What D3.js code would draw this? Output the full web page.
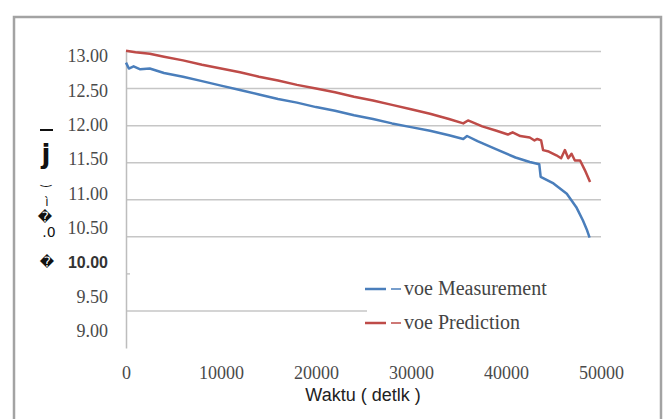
<!DOCTYPE html>
<html>
<head>
<meta charset="utf-8">
<script src="https://cdn.jsdelivr.net/npm/d3@7"></script>
<style>
  body { margin: 0; background: #fff; }
</style>
</head>
<body>
<svg width="670" height="419"></svg>
<script>
// values
var xTicks = [0, 10000, 20000, 30000, 40000, 50000];
var yTicks = [9.0, 9.5, 10.0, 10.5, 11.0, 11.5, 12.0, 12.5, 13.0];

var measTime = [0, 300, 800, 1500, 2500, 4000, 6000, 8000, 10000, 12000, 14000, 16000, 18000, 20000,
    22000, 24000, 26000, 28000, 30000, 32000, 34000, 35500, 35900, 37000, 39000, 41000, 42500,
    43500, 43650, 45000, 46400, 47400, 48100, 48500, 48800];
var measVolt = [12.85, 12.77, 12.80, 12.76, 12.77, 12.71, 12.66, 12.60, 12.54, 12.48, 12.42, 12.36, 12.31, 12.25,
    12.20, 12.14, 12.09, 12.03, 11.98, 11.93, 11.87, 11.82, 11.86, 11.79, 11.68, 11.57, 11.51,
    11.48, 11.31, 11.22, 11.08, 10.90, 10.72, 10.60, 10.49];

var predTime = [0, 1000, 2500, 4000, 6000, 8000, 10000, 12000, 14000, 16000, 18000, 20000, 22000, 24000,
    26000, 28000, 30000, 32000, 34000, 35500, 36000, 37500, 39000, 40200, 40700, 41500, 42500, 43000,
    43300, 43700, 43900, 44500, 45300, 45800, 46200, 46550, 46900, 47250, 47800, 48300, 48850];
var predVolt = [13.01, 12.99, 12.97, 12.93, 12.88, 12.82, 12.77, 12.72, 12.66, 12.61, 12.55, 12.50, 12.45, 12.39,
    12.34, 12.28, 12.22, 12.16, 12.09, 12.03, 12.07, 11.99, 11.93, 11.88, 11.91, 11.86, 11.84, 11.80,
    11.82, 11.80, 11.67, 11.65, 11.60, 11.56, 11.67, 11.56, 11.62, 11.53, 11.53, 11.40, 11.24];

var seriesNames = ["voe Measurement", "voe Prediction"];
var seriesColors = ["#4a7ebb", "#be4b48"];

var serif = "'Liberation Serif', 'Times New Roman', serif";
var sans = "'Liberation Sans', Arial, sans-serif";

var svg = d3.select("svg");

// outer frame
svg.append("rect")
    .attr("x", 14).attr("y", 17)
    .attr("width", 647).attr("height", 420)
    .attr("fill", "none")
    .attr("stroke", "#a3a3a3")
    .attr("stroke-width", 2.5);

var x = d3.scaleLinear().domain([0, 50000]).range([126, 601]);
var y = d3.scaleLinear().domain([9, 13]).range([348, 51.5]);
// tick labels in the scan sit a little squeezed compared with the gridlines
var yLab = d3.scaleLinear().domain([9, 13]).range([331, 56]);

// gridlines (10.00 is hidden behind the legend box, 9.50 stops at it)
var grid = svg.append("g");
yTicks.filter(function (d) { return d > 9 && d !== 10; }).forEach(function (d) {
    grid.append("line")
        .attr("x1", x(0)).attr("x2", d === 9.5 ? 367 : x(50000))
        .attr("y1", y(d)).attr("y2", y(d))
        .attr("stroke", "#c6c6c6").attr("stroke-width", 1.5);
});
grid.append("line")
    .attr("x1", x(0)).attr("x2", x(0) + 4)
    .attr("y1", y(10)).attr("y2", y(10))
    .attr("stroke", "#c6c6c6").attr("stroke-width", 1.5);

// y axis
var yAxis = svg.append("g")
    .attr("transform", "translate(" + x(0) + ",0)")
    .call(d3.axisLeft(y).tickValues(yTicks).tickSize(0).tickPadding(18)
        .tickFormat(function (d) { return d.toFixed(2); }));
yAxis.select(".domain").attr("stroke", "#bdbdbd").attr("stroke-width", 1.5);
yAxis.selectAll(".tick text")
    .style("font-family", serif)
    .style("font-size", "18px")
    .style("fill", "#4a4a4a")
    .attr("y", function (d) { return yLab(d) - y(d); });
yAxis.selectAll(".tick").filter(function (d) { return d === 10; }).select("text")
    .style("font-family", sans)
    .style("font-weight", "bold")
    .style("font-size", "16px")
    .style("fill", "#333");

// x axis (labels only)
var xAxis = svg.append("g")
    .attr("transform", "translate(0," + y(9) + ")")
    .call(d3.axisBottom(x).tickValues(xTicks).tickSize(0).tickPadding(18)
        .tickFormat(d3.format("d")));
xAxis.select(".domain").remove();
xAxis.selectAll(".tick text")
    .style("font-family", serif)
    .style("font-size", "18px")
    .style("fill", "#4a4a4a");

svg.append("text")
    .attr("x", 363).attr("y", 401)
    .attr("text-anchor", "middle")
    .style("font-family", sans)
    .style("font-size", "18px")
    .style("fill", "#222")
    .text("Waktu ( detlk )");

// garbled y label from the scan
var yl = svg.append("g")
    .style("font-family", "'DejaVu Sans', sans-serif")
    .style("fill", "#111");
yl.append("line").attr("x1", 40).attr("x2", 53).attr("y1", 130).attr("y2", 130)
    .attr("stroke", "#111").attr("stroke-width", 2);
yl.append("text").attr("x", 46).attr("y", 163).attr("text-anchor", "middle")
    .style("font-size", "26px").style("font-weight", "bold").text("j");
yl.append("text").attr("x", 46).attr("y", 184).attr("text-anchor", "middle")
    .style("font-size", "13px").text("‿");
yl.append("text").attr("x", 47).attr("y", 206).attr("text-anchor", "middle")
    .style("font-size", "12px").text("ì");
yl.append("text").attr("x", 45).attr("y", 222).attr("text-anchor", "middle")
    .style("font-size", "14px").text("�");
yl.append("text").attr("x", 49).attr("y", 237).attr("text-anchor", "middle")
    .style("font-size", "14px").text(".0");
yl.append("text").attr("x", 47).attr("y", 267).attr("text-anchor", "middle")
    .style("font-size", "14px").text("�");

// series lines
var line = d3.line()
    .x(function (d) { return x(d[0]); })
    .y(function (d) { return y(d[1]); });

var series = [d3.zip(measTime, measVolt), d3.zip(predTime, predVolt)];
series.forEach(function (s, i) {
    svg.append("path")
        .datum(s)
        .attr("fill", "none")
        .attr("stroke", seriesColors[i])
        .attr("stroke-width", 2.5)
        .attr("stroke-linejoin", "round")
        .attr("d", line);
});

// legend
var legend = svg.append("g");
seriesNames.forEach(function (name, i) {
    var ly = 289 + i * 34;
    legend.append("line").attr("x1", 365).attr("x2", 386).attr("y1", ly).attr("y2", ly)
        .attr("stroke", seriesColors[i]).attr("stroke-width", 2.5);
    legend.append("line").attr("x1", 391).attr("x2", 401).attr("y1", ly).attr("y2", ly)
        .attr("stroke", seriesColors[i]).attr("stroke-width", 1.5);
    legend.append("text")
        .attr("x", 404).attr("y", ly + 6)
        .style("font-family", serif)
        .style("font-size", "20px")
        .style("fill", "#444")
        .text(name);
});
</script>
</body>
</html>
